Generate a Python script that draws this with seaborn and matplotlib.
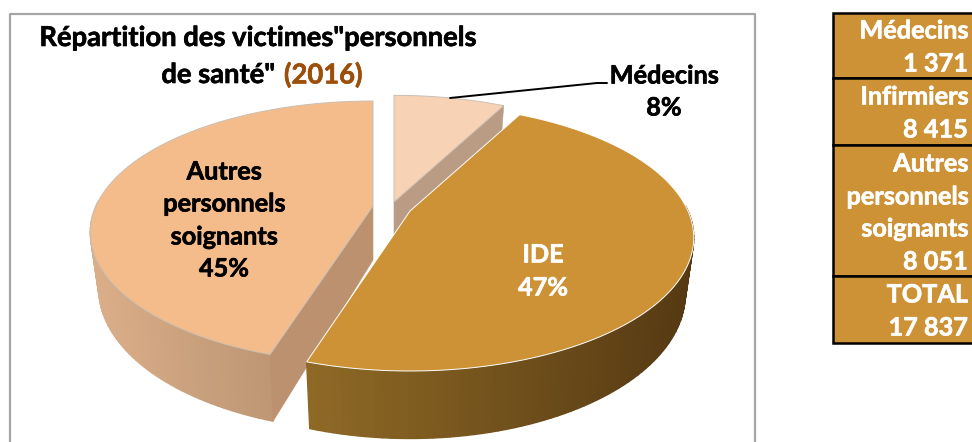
import numpy as np
import matplotlib
matplotlib.use("Agg")
import matplotlib.pyplot as plt
import matplotlib.patheffects as pe
from matplotlib.patches import Polygon, Rectangle
from matplotlib.colors import to_rgb
import seaborn as sns

# --- data ---
categories = ["Médecins", "IDE", "Autres\npersonnels\nsoignants"]
table_labels = ["Médecins", "Infirmiers", "Autres\npersonnels\nsoignants", "TOTAL"]
values = [1371, 8415, 8051]
total = 17837
title_line1 = 'Répartition des victimes"personnels'
title_line2 = 'de santé"'
title_year = "(2016)"

# --- style ---
sns.set_theme(style="white")
plt.rcParams["font.family"] = ["Lato", "DejaVu Sans"]
top_colors = sns.color_palette(["#F8D2B4", "#CD9236", "#F5BC8B"])
cut_colors = ["#BA9B83", "#8A6524", "#BC9170"]
side_left = ["#C4A388", "#8F6A26", "#DAAE88"]
side_right = ["#B08D72", "#553912", "#AE8969"]
BROWN = "#9C4F0B"
TABLE = "#CD9236"

# centre x, centre y, half width, half height of the projected disc of each slice
geom = [(394, 202, 278, 128), (410, 211, 278, 128), (373, 206, 277, 126)]
K = 0.2        # perspective
DEPTH = 54     # extrusion
TAPER = 0.97

fig = plt.figure(figsize=(9.72, 4.42), dpi=100)
ax = fig.add_axes([0, 0, 1, 1])
ax.set_xlim(0, 972)
ax.set_ylim(442, 0)
ax.axis("off")


def project(theta, g, low=False):
    cx, cy, A, B = g
    u, v = np.sin(theta), np.cos(theta)
    s = 1 / (1 + K * v)
    if low:
        return cx + A * u * s * TAPER, cy - B * v * s + DEPTH * s
    return cx + A * u * s, cy - B * v * s


def apex(g, low=False):
    return (g[0], g[1] + (DEPTH if low else 0))


def heavy(color, w=0.45):
    return [pe.withStroke(linewidth=w, foreground=color)]


# frame of the chart area
ax.plot([10, 10, 755, 755], [445, 14, 14, 445], color="#A6A6A6", lw=1.6, zorder=1)

fractions = np.array(values) / sum(values)
edges = np.concatenate([[0], np.cumsum(fractions)]) * 2 * np.pi
bounds = list(zip(edges[:-1], edges[1:]))

for order, i in enumerate([0, 2, 1]):
    g = geom[i]
    a0, a1 = bounds[i]
    z = 2 + order
    th = np.linspace(a0, a1, 120)

    # outer wall, only its front part is visible: shaded in strips from left to right
    xs_all = project(th, g)[0]
    xmin, xmax = xs_all.min(), xs_all.max()
    c0, c1 = np.array(to_rgb(side_left[i])), np.array(to_rgb(side_right[i]))
    for t0, t1 in zip(th[:-1], th[1:]):
        if np.cos((t0 + t1) / 2) > 0.05:
            continue
        x0, y0 = project(t0, g)
        x1, y1 = project(t1, g)
        x2, y2 = project(t1, g, low=True)
        x3, y3 = project(t0, g, low=True)
        f = ((x0 + x1) / 2 - xmin) / max(xmax - xmin, 1)
        col = c0 + (c1 - c0) * f
        ax.add_patch(Polygon([(x0, y0), (x1, y1), (x2, y2), (x3, y3)],
                             closed=True, fc=col, ec=col, lw=1.0, zorder=z))

    # cut wall: Médecins shows its end edge, Autres its start edge
    if i != 1:
        cut = a1 if i == 0 else a0
        p0 = project(cut, g)
        p1 = project(cut, g, low=True)
        ax.add_patch(Polygon([apex(g), p0, p1, apex(g, True)], closed=True,
                             fc=cut_colors[i], ec=cut_colors[i], lw=0.4, zorder=z + 0.05))

    # top face
    xs, ys = project(th, g)
    pts = np.column_stack([np.r_[g[0], xs], np.r_[g[1], ys]])
    ec = "#FFFFFF" if i == 1 else "#C9BFB5"
    ax.add_patch(Polygon(pts, closed=True, fc=top_colors[i], ec=ec, lw=0.7, zorder=z + 0.1))

# labels on the slices
FS = 18.2
lab = dict(fontsize=FS, fontweight="bold", ha="center", va="center", zorder=10)
pct = [f"{round(100 * f)}%" for f in fractions]
for line, y in zip(categories[2].split("\n") + [pct[2]], [172, 204, 237, 269]):
    ax.text(224, y, line, color="black", path_effects=heavy("black"), **lab)
for line, y in zip([categories[1], pct[1]], [255, 288]):
    ax.text(543, y, line, color="white", path_effects=heavy("white"), **lab)
for line, y in zip([categories[0], pct[0]], [76, 108]):
    ax.text(664, y, line, color="black", path_effects=heavy("black"), **lab)

# leader line
ax.plot([450, 597, 607], [98, 83, 83], color="black", lw=1.4, zorder=10)

# title
tit = dict(fontsize=19.7, fontweight="bold", va="center", zorder=10)
ax.text(258, 38, title_line1, color="black", ha="center", path_effects=heavy("black"), **tit)
ax.text(275, 75, title_line2, color="black", ha="right", path_effects=heavy("black"), **tit)
ax.text(284, 75, title_year, color=BROWN, ha="left", path_effects=heavy(BROWN), **tit)

# table on the right
rows = [(13, 78), (78, 145), (145, 276), (276, 343)]
nums = values[:1] + [values[1]] + [values[2]] + [total]
centres = [[31, 64], [97, 130], [164, 197, 229, 262], [295, 328]]
for (y0, y1), name, n, cs in zip(rows, table_labels, nums, centres):
    ax.add_patch(Rectangle((833, y0), 145, y1 - y0, fc=TABLE, ec="black", lw=1.8, zorder=2))
    text = name.split("\n") + [f"{n:,}".replace(",", " ")]
    for line, y in zip(text, cs):
        ax.text(968, y, line, color="white", fontsize=FS, fontweight="bold",
                ha="right", va="center", zorder=10, path_effects=heavy("white"))

fig.savefig("out.png", dpi=100, facecolor="white")
